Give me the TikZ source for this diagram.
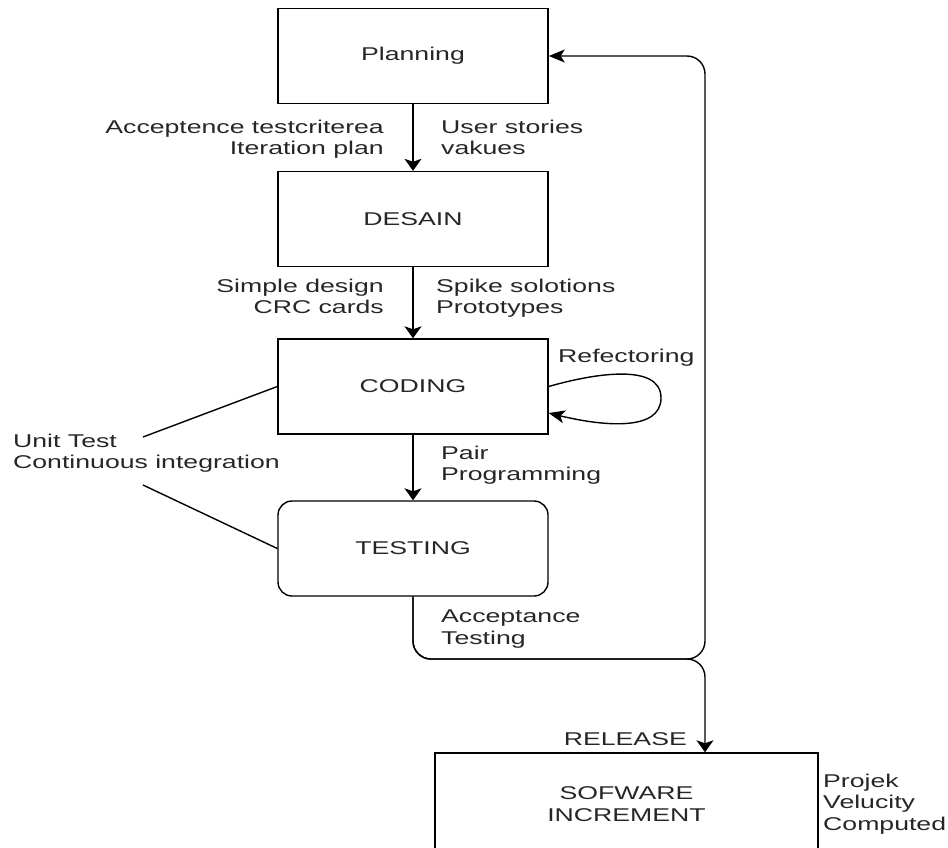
\documentclass[tikz,border=0pt]{standalone}
\usepackage{fontspec}
\setmainfont{Liberation Sans}[FakeStretch=1.44]
\usetikzlibrary{arrows.meta}
\definecolor{txt}{HTML}{262626}
\tikzset{
  lbl/.style={font=\fontsize{18.5}{21.7}\selectfont, text=txt, inner sep=0pt},
  stagebox/.style={draw, line width=1.4pt, minimum width=270pt, minimum height=95pt, inner sep=0pt, lbl},
  conn/.style={line width=1.4pt},
  varr/.style={conn, -{Stealth[length=12pt, width=17pt, inset=3pt]}},
  harr/.style={conn, -{Stealth[length=16pt, width=13pt, inset=4pt]}},
}
\begin{document}
\begin{tikzpicture}[x=1pt, y=-1pt]
\useasboundingbox (0,0) rectangle (948,847);

% stage boxes
\node[stagebox] (plan) at (413,56) {Planning};
\node[stagebox] (des)  at (413,219) {DESAIN};
\node[stagebox] (cod)  at (413,386.5) {CODING};
\node[stagebox, rounded corners=14pt] (tst) at (413,548.5) {TESTING};
\node[stagebox, minimum width=383pt, minimum height=102pt, align=center] (sw) at (626.5,804) {SOFWARE\\INCREMENT};

% main flow
\draw[varr] (plan) -- (des);
\draw[varr] (des) -- (cod);
\draw[varr] (cod) -- (tst);

% refactoring loop
\draw[harr] (cod.east) .. controls (592,374) and (661,362) .. (661,398)
  .. controls (661,432) and (602,426) .. ([yshift=-26.5pt]cod.east);

% feedback and release
\coordinate (j1) at (413,659);
\coordinate (j2) at (705,659);
\coordinate (j3) at (705,56);
\draw[harr, rounded corners=18pt] (tst.south) -- (j1) -- (j2) -- (j3) -- (plan.east);
\draw[varr, rounded corners=18pt] (tst.south) -- (j1) -- (j2) -- (sw.north -| j2);

% unit test lines
\coordinate (u1) at (143,437);
\coordinate (u2) at (143,485);
\draw[conn] (u1) -- (cod.west);
\draw[conn] (u2) -- (tst.west);

% labels
\node[lbl, anchor=north east, align=right] (l1) at (384,119.6) {Acceptence testcriterea\\Iteration plan};
\node[lbl, anchor=north west, align=left] (l2) at (441,119.6) {User stories\\vakues};
\node[lbl, anchor=north east, align=right] (l3) at (384,278.6) {Simple design\\CRC cards};
\node[lbl, anchor=north west, align=left] (l4) at (436,278.6) {Spike solotions\\Prototypes};
\node[lbl, anchor=north west] (l5) at (558,348.6) {Refectoring};
\node[lbl, anchor=north west, align=left] (l6) at (441,445.6) {Pair\\Programming};
\node[lbl, anchor=north west, align=left] (l7) at (13,433.6) {Unit Test\\Continuous integration};
\node[lbl, anchor=north west, align=left] (l8) at (441,609.6) {Acceptance\\Testing};
\node[lbl, anchor=base east] (l9) at (687,745) {RELEASE};
\node[lbl, anchor=north west, align=left] (l10) at (823,773.6) {Projek\\Velucity\\Computed};
\end{tikzpicture}
\end{document}
